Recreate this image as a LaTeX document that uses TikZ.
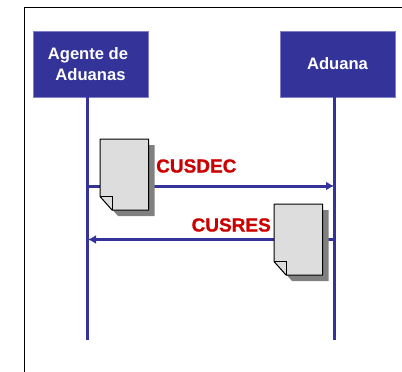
\documentclass[tikz,border=0pt]{standalone}
\usepackage{fontspec}
\setmainfont{Liberation Sans}
\newfontfamily\negrita[FakeBold=0.8]{Liberation Sans Bold}
\usetikzlibrary{arrows.meta}
\definecolor{azul}{HTML}{333399}
\definecolor{borde}{HTML}{8080C8}
\definecolor{rojo}{HTML}{CC0000}
\definecolor{hoja}{HTML}{DDDDDD}
\definecolor{sombra}{HTML}{808080}
\begin{document}
\begin{tikzpicture}[x=1pt,y=-1pt]
			\tikzstyle{actor}=[rectangle,draw=borde,fill=azul,text=white,line width=0.6pt,minimum width=115pt,minimum height=66pt,inner sep=0pt,align=center,font=\fontsize{16.6}{21}\selectfont\bfseries]
			\tikzstyle{vida}=[draw=azul,line width=3pt]
			\tikzstyle{mensaje}=[vida,-{Latex[length=8pt,width=9pt]}]
			\tikzstyle{etiqueta}=[text=rojo,inner sep=0pt,font=\fontsize{19}{22}\selectfont\negrita]
			\useasboundingbox (0,0) rectangle (402,372);
			\draw[black,line width=1pt] (24.5,372) -- (24.5,7.5) -- (402,7.5);
			\node[actor] (agente) at (90.5,64.5) {\mbox{Agente de\kern5pt}\\Aduanas};
			\node[actor] (aduana) at (337.5,64) {Aduana};
			\coordinate (agentefin) at (87.5,340);
			\coordinate (aduanafin) at (334.5,340);
			\coordinate (agentetop) at (87.5,97);
			\coordinate (aduanatop) at (334.5,97);
			\coordinate (cusdecini) at (87.5,186);
			\coordinate (cusdecfin) at (334,186);
			\coordinate (cusresini) at (334.5,239.5);
			\coordinate (cusresfin) at (88,239.5);
			\draw[vida] (agentetop) -- (agentefin);
			\draw[vida] (aduanatop) -- (aduanafin);
			\draw[mensaje] (cusdecini) -- (cusdecfin);
			\draw[mensaje] (cusresini) -- (cusresfin);
			\foreach \x/\y in {100/139,274/204}
			{
				\fill[sombra] (\x+6,\y+6) -- (\x+54.5,\y+6) -- (\x+54.5,\y+77) -- (\x+18,\y+77) -- (\x+6,\y+63.5) -- cycle;
				\draw[black,fill=hoja,line width=1pt,line join=round] (\x,\y) -- (\x+48.5,\y) -- (\x+48.5,\y+71) -- (\x+12,\y+71) -- (\x,\y+57.5) -- cycle;
				\draw[black,line width=1pt] (\x,\y+57.5) -- (\x+12,\y+57.5) -- (\x+12,\y+71);
			}
			\node[etiqueta,anchor=west] (cusdec) at (156,166) {CUSDEC};
			\node[etiqueta,anchor=east] (cusres) at (271,225) {CUSRES};
\end{tikzpicture}
\end{document}
